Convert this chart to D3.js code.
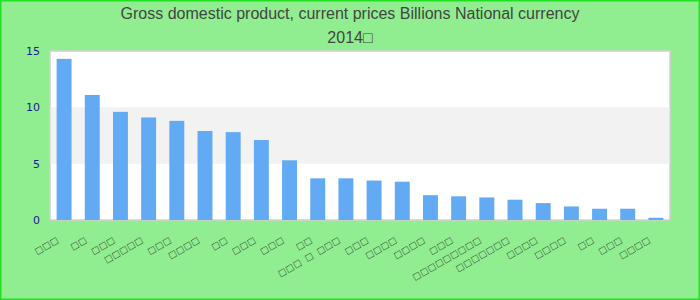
<!DOCTYPE html>
<html>
<head>
<meta charset="utf-8">
<script src="https://cdn.jsdelivr.net/npm/d3@7"></script>
<style>
  body { margin: 0; background: #fff; }
  svg { display: block; font-family: "Liberation Sans", Arial, sans-serif; }
</style>
</head>
<body>
<svg id="chart" width="700" height="300"></svg>
<script>
// labels rendered as missing-glyph boxes in the reference; kept as box characters
var titleLines = ["Gross domestic product, current prices Billions National currency", "2014\u25A1"];
var categories = [
  "□□□", "□□", "□□□", "□□□□□", "□□□", "□□□□", "□□", "□□□", "□□□", "□□",
  "□□□ □ □□□", "□□□", "□□□□", "□□□□", "□□□", "□□□□□□□□□", "□□□□□□□", "□□□□",
  "□□□□", "□□", "□□□", "□□□□"
];
var values = [14.3, 11.1, 9.6, 9.1, 8.8, 7.9, 7.8, 7.1, 5.3, 3.7, 3.7, 3.5, 3.4, 2.2, 2.1, 2.0, 1.8, 1.5, 1.2, 1.0, 1.0, 0.2];
var yTicks = [0, 5, 10, 15];

var data = categories.map(function(c, i) { return { name: c, value: values[i], i: i }; });

var W = 700, H = 300;
var margin = { top: 51, right: 30, bottom: 80, left: 50 };
var width = W - margin.left - margin.right,
    height = H - margin.top - margin.bottom;

var svg = d3.select("#chart");

svg.append("rect")
  .attr("x", 0.75).attr("y", 0.75)
  .attr("width", W - 1.5).attr("height", H - 1.5)
  .style("fill", "#90ee90")
  .style("stroke", "#22e022")
  .style("stroke-width", 1.5);

svg.selectAll("text.title")
  .data(titleLines)
  .enter().append("text")
    .attr("class", "title")
    .attr("x", W / 2)
    .attr("y", function(d, i) { return 18.5 + i * 24; })
    .attr("text-anchor", "middle")
    .style("font-size", "16px")
    .style("fill", "#444")
    .text(function(d) { return d; });

var x = d3.scaleBand()
  .domain(data.map(function(d) { return d.i; }))
  .range([0, width])
  .paddingInner(0.47)
  .paddingOuter(0.235);

var y = d3.scaleLinear().domain([0, 15]).range([height, 0]);

var g = svg.append("g").attr("transform", "translate(" + margin.left + "," + margin.top + ")");

// plot background with alternating bands
g.append("rect")
  .attr("width", width).attr("height", height)
  .style("fill", "#fff")
  .style("stroke", "#d0d0d0")
  .style("stroke-width", 1.5);

g.selectAll("rect.band")
  .data([[5, 10]])
  .enter().append("rect")
    .attr("class", "band")
    .attr("x", 0.75)
    .attr("width", width - 1.5)
    .attr("y", function(d) { return y(d[1]); })
    .attr("height", function(d) { return y(d[0]) - y(d[1]); })
    .style("fill", "#f2f2f2");

g.selectAll("rect.bar")
  .data(data)
  .enter().append("rect")
    .attr("class", "bar")
    .attr("x", function(d) { return x(d.i); })
    .attr("width", x.bandwidth())
    .attr("y", function(d) { return y(d.value); })
    .attr("height", function(d) { return height - y(d.value); })
    .style("fill", "#62aaf3");

var yAxis = g.append("g")
  .call(d3.axisLeft(y).tickValues(yTicks).tickSize(0).tickPadding(10));
yAxis.select(".domain").remove();
yAxis.selectAll("text")
  .style("font-size", "11px")
  .style("fill", "#1a1a9a")
  .style("font-family", "'DejaVu Sans', sans-serif");

var xAxis = g.append("g")
  .attr("transform", "translate(0," + height + ")")
  .call(d3.axisBottom(x).tickSize(0).tickFormat(function(i) { return categories[i]; }));
xAxis.select(".domain").remove();
xAxis.selectAll("text")
  .attr("text-anchor", "end")
  .attr("dy", "0.35em")
  .attr("transform", "translate(-7,16) rotate(-30)")
  .style("font-size", "11px")
  .style("letter-spacing", "2px")
  .style("fill", "#222");
</script>
</body>
</html>
